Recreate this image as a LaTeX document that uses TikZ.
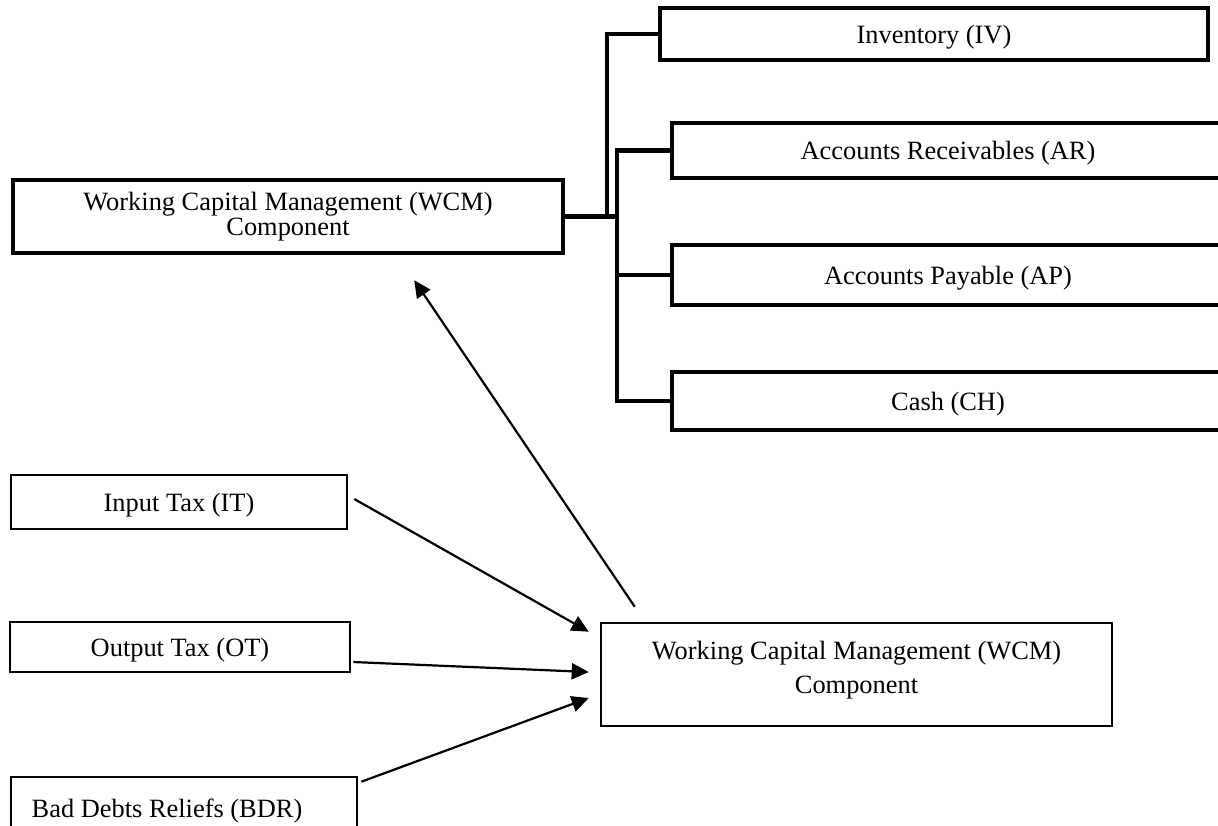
\documentclass[tikz,border=0pt]{standalone}
\usepackage{fontspec}
\setmainfont{Liberation Serif}
\usetikzlibrary{arrows.meta,calc}
\begin{document}
\begin{tikzpicture}[x=0.5pt,y=-0.5pt,
  thickbox/.style={draw, line width=2.25pt, rectangle, inner sep=0pt, align=center,
    font=\fontsize{13.2pt}{12.5pt}\selectfont},
  thinbox/.style={draw, line width=1.3pt, rectangle, inner sep=0pt, align=center,
    font=\fontsize{13.2pt}{17pt}\selectfont},
  oneline/.style={text depth=0pt},
  plain/.style={inner sep=0pt, font=\fontsize{13.2pt}{15pt}\selectfont},
  conn/.style={line width=2.25pt, line join=miter},
  arr/.style={line width=1.1pt, -{Triangle[length=8.5pt,width=8pt]}}]
\useasboundingbox (0,0) rectangle (1218,825);
\clip (0,0) rectangle (1218,825);

% top-left component and its parts
\node[thickbox, minimum width=275pt, minimum height=36.5pt] (wcmtop) at (288,216.5)
  {Working Capital Management (WCM)\\Component};
\node[thickbox, oneline, minimum width=274pt, minimum height=26pt] (inv) at (934,34) {Inventory (IV)};
\node[thickbox, oneline, minimum width=276pt, minimum height=27.5pt] (ar) at (948,150.5) {Accounts Receivables (AR)};
\node[thickbox, oneline, minimum width=276pt, minimum height=30pt] (ap) at (948,275) {Accounts Payable (AP)};
\node[thickbox, oneline, minimum width=276pt, minimum height=29pt] (cash) at (948,401) {Cash (CH)};

% tax inputs
\node[thinbox, oneline, minimum width=168pt, minimum height=27pt] (it) at (179,502) {Input Tax (IT)};
\node[thinbox, oneline, minimum width=170pt, minimum height=25pt] (ot) at (180,647) {Output Tax (OT)};
\node[thinbox, minimum width=173pt, minimum height=33pt] (bdr) at (184,810) {};
\node[plain, oneline] (bdrtext) at (167,808) {Bad Debts Reliefs (BDR)};

% bottom component
\node[thinbox, minimum width=255.5pt, minimum height=51.5pt] (wcmbot) at (856.5,674.5)
  {Working Capital Management (WCM)\\Component\rule[-7.4pt]{0pt}{7.4pt}};

% bracket connectors
\coordinate (b1) at (607,216.5);
\coordinate (b2) at (617,216.5);
\draw[conn] (wcmtop.east) -- (b2);
\draw[conn] (inv.west) -| (b1);
\draw[conn] (ar.west) -| (b2);
\draw[conn] (cash.west) -| (b2);
\draw[conn] (ap.west) -- (ap.west -| b2);

% arrows
\draw[arr] ([shift={(6,-3)}]it.east) -- ([shift={(-11,10)}]wcmbot.north west);
\draw[arr] ([shift={(2,15)}]ot.east) -- ([shift={(-11,-2.5)}]wcmbot.west);
\draw[arr] ([shift={(3,6)}]bdr.north east) -- ([shift={(-11,23.5)}]wcmbot.west);
\draw[arr] ([shift={(35,-15)}]wcmbot.north west) -- ([shift={(-151,25)}]wcmtop.south east);
\end{tikzpicture}
\end{document}
